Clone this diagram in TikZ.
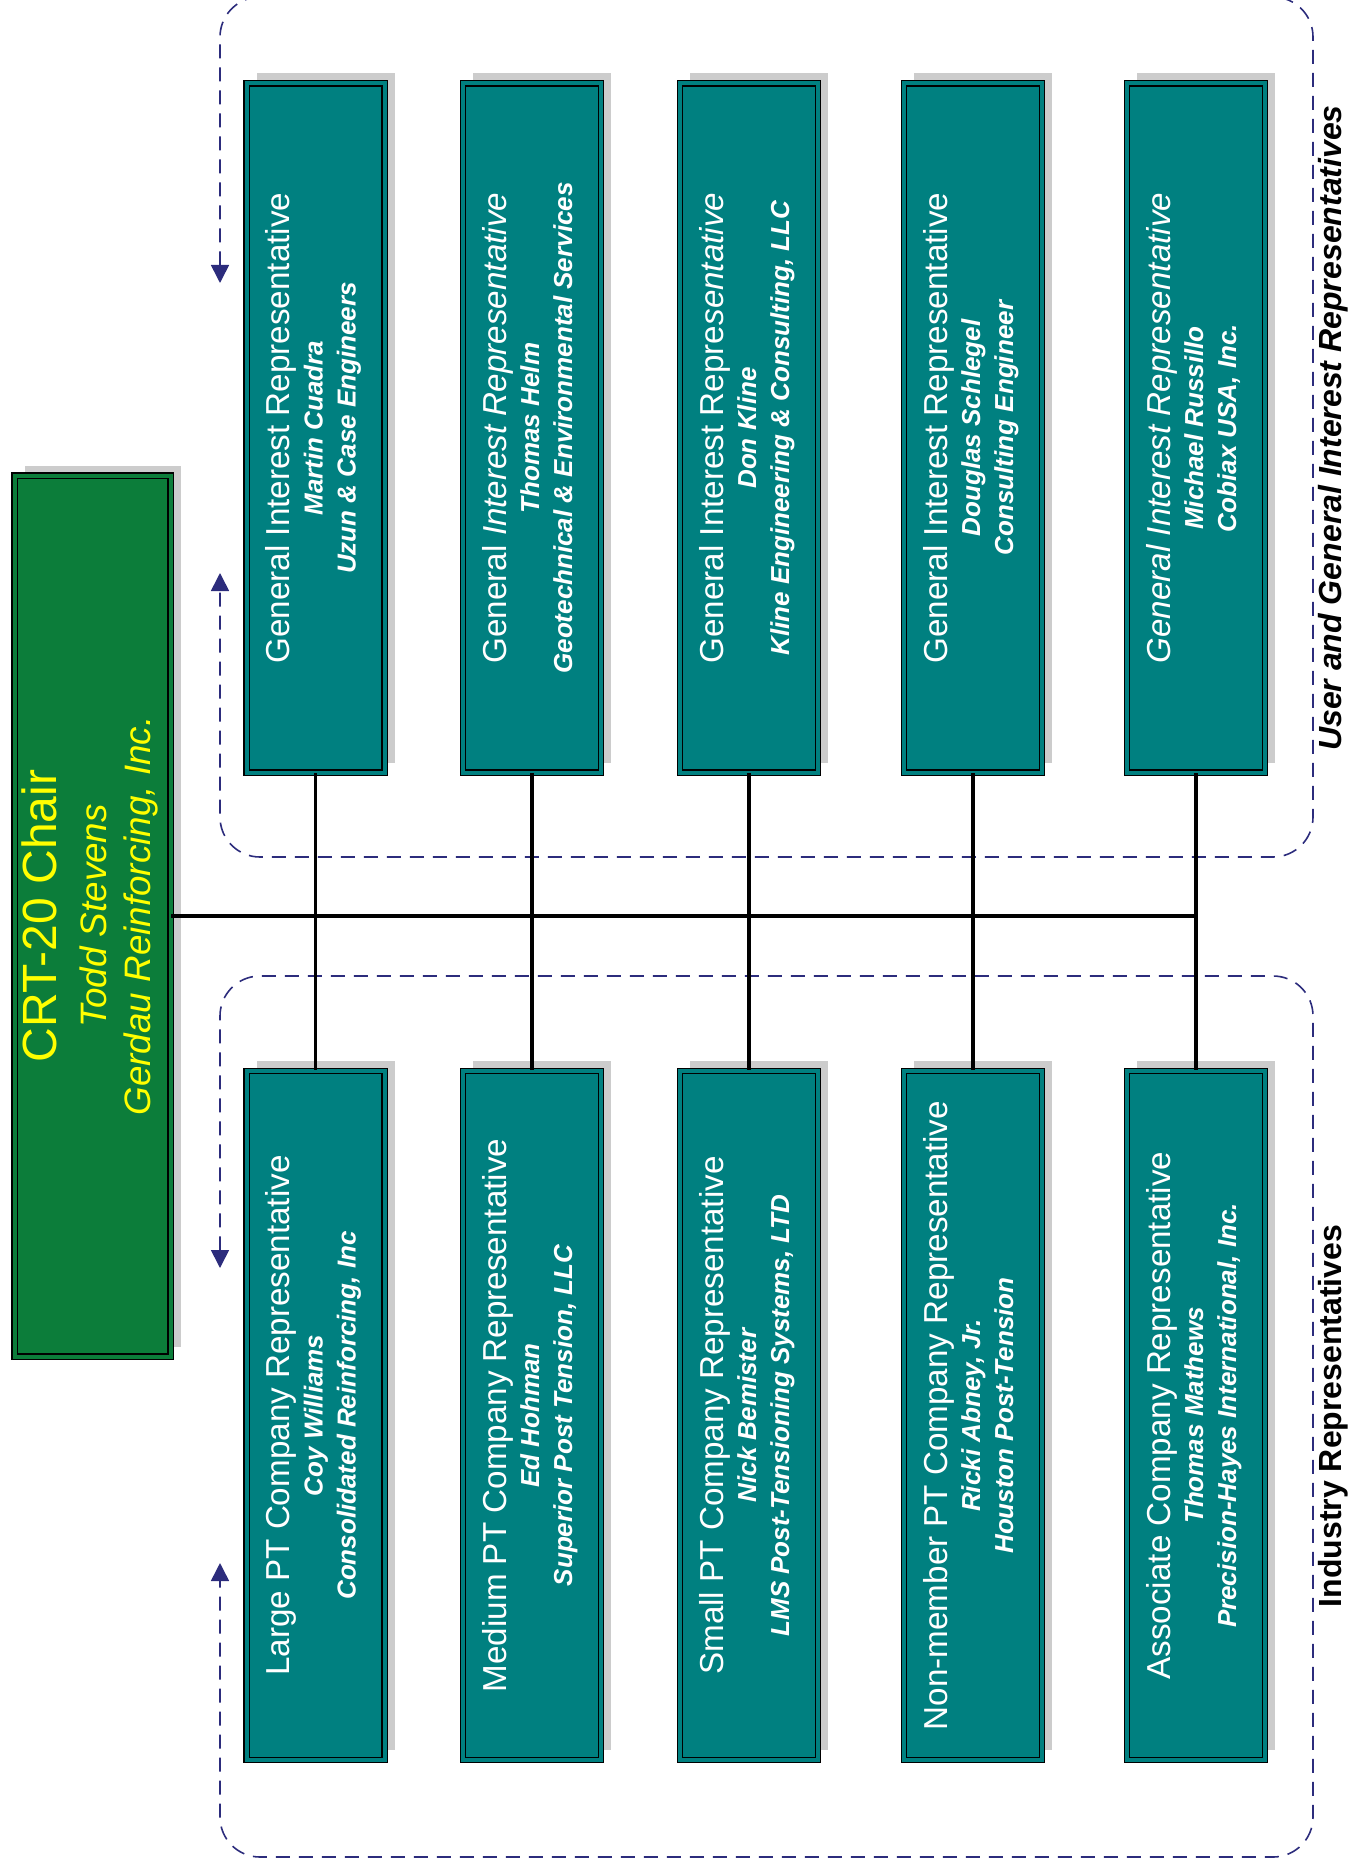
\documentclass[tikz,border=0pt]{standalone}
\usepackage{fontspec}
\setmainfont{Liberation Sans}
\usepackage{graphicx}
\usetikzlibrary{shadows, arrows.meta}

\definecolor{repteal}{RGB}{0,128,128}
\definecolor{chairgreen}{RGB}{12,125,58}
\definecolor{chairyellow}{RGB}{255,255,0}
\definecolor{groupblue}{RGB}{44,44,124}
\definecolor{shadowgray}{RGB}{204,204,204}

% Text turned to read from bottom to top.
\newcommand{\upturn}[1]{\rotatebox{90}{\begin{tabular}{@{}c@{}}#1\end{tabular}}}
\newcommand{\repline}{\fontsize{13}{16.5}\selectfont\bfseries\itshape}

\begin{document}
\begin{tikzpicture}[x=0.5pt, y=-0.5pt,
    panel/.style = {rectangle, draw=black, line width=0.7pt, double distance=2pt, inner sep=0pt,
                    general shadow={fill=shadowgray, shadow xshift=5pt, shadow yshift=5pt}},
    repbox/.style = {panel, fill=repteal, double=repteal, text=white,
                     minimum width=69pt, minimum height=344.5pt,
                     font=\fontsize{16.6}{16.5}\selectfont},
    chairbox/.style = {panel, fill=chairgreen, double=chairgreen, text=chairyellow,
                       minimum width=78pt, minimum height=440.5pt,
                       font=\fontsize{18.4}{22}\selectfont},
    group/.style = {draw=groupblue, line width=0.8pt, dash pattern=on 7pt off 4.5pt,
                    rounded corners=20pt, {Triangle[length=9pt, width=9pt]}-{Triangle[length=9pt, width=9pt]}},
    grouplabel/.style = {rotate=90, inner sep=0pt, font=\fontsize{16}{16}\selectfont\bfseries}]
  \useasboundingbox (0, 0) rectangle (1348, 1866);

  % Group outlines.
  \coordinate (userGapTop) at (220, 283);
  \coordinate (userGapBottom) at (220, 573);
  \coordinate (industryGapTop) at (220, 1268);
  \coordinate (industryGapBottom) at (220, 1563);
  \draw [group] (userGapTop) -- (220, -3) -- (1313, -3) -- (1313, 857) -- (220, 857) -- (userGapBottom);
  \draw [group] (industryGapTop) -- (220, 976) -- (1313, 976) -- (1313, 1857) -- (220, 1857) -- (industryGapBottom);
  \node at (1333, 428) [grouplabel, name=UserLabel] {\itshape User and General Interest Representatives};
  \node at (1333, 1416) [grouplabel, name=IndustryLabel] {Industry Representatives};

  % Chair.
  \node at (92.5, 916) [chairbox, name=Chair]
        {\upturn{{\fontsize{24}{24}\selectfont CRT-20 Chair}\\[3pt] \itshape Todd Stevens\\ \itshape Gerdau Reinforcing, Inc.}};

  % User and general interest representatives.
  \node at (315.5, 428) [repbox, name=GeneralOne]
        {\upturn{General Interest Representative\\ {\repline Martin Cuadra}\\ {\repline Uzun \& Case Engineers}}};
  \node at (532, 428) [repbox, name=GeneralTwo]
        {\upturn{General \textit{Interest Representative}\\ {\repline Thomas Helm}\\ {\repline Geotechnical \& Environmental Services}}};
  \node at (749, 428) [repbox, name=GeneralThree]
        {\upturn{General Interest Repre\textit{sentative}\\ {\repline Don Kline}\\ {\repline Kline Engineering \& Consulting, LLC}}};
  \node at (973, 428) [repbox, name=GeneralFour]
        {\upturn{General Interest Representative\\ {\repline Douglas Schlegel}\\ {\repline Consulting Engineer}}};
  \node at (1196, 428) [repbox, name=GeneralFive]
        {\upturn{\textit{General Interest Representative}\\ {\repline Michael Russillo}\\ {\repline Cobiax USA, Inc.}}};

  % Industry representatives.
  \node at (315.5, 1415.5) [repbox, name=LargePT]
        {\upturn{Large PT Company Representative\\ {\repline Coy Williams}\\ {\repline Consolidated Reinforcing, Inc}}};
  \node at (532, 1415.5) [repbox, name=MediumPT]
        {\upturn{Medium PT Company Representative\\ {\repline Ed Hohman}\\ {\repline Superior Post Tension, LLC}}};
  \node at (749, 1415.5) [repbox, name=SmallPT]
        {\upturn{Small PT Company Representative\\ {\repline Nick Bemister}\\ {\repline LMS Post-Tensioning Systems, LTD}}};
  \node at (973, 1415.5) [repbox, name=NonMemberPT]
        {\upturn{Non-member PT Company Representative\\ {\repline Ricki Abney, Jr.}\\ {\repline Houston Post-Tension}}};
  \node at (1196, 1415.5) [repbox, name=Associate]
        {\upturn{Associate Company Representative\\ {\repline Thomas Mathews}\\ {\repline Precision-Hayes International, Inc.}}};

  % Reporting lines.
  \draw [line width=2pt] (Chair.east)
             to
             (Chair.east -| Associate.north);
  \draw [line width=1.6pt] (GeneralOne.south) to (LargePT.north);
  \draw [line width=1.6pt] (GeneralTwo.south) to (MediumPT.north);
  \draw [line width=1.6pt] (GeneralThree.south) to (SmallPT.north);
  \draw [line width=1.6pt] (GeneralFour.south) to (NonMemberPT.north);
  \draw [line width=1.6pt] (GeneralFive.south) to (Associate.north);
\end{tikzpicture}
\end{document}
